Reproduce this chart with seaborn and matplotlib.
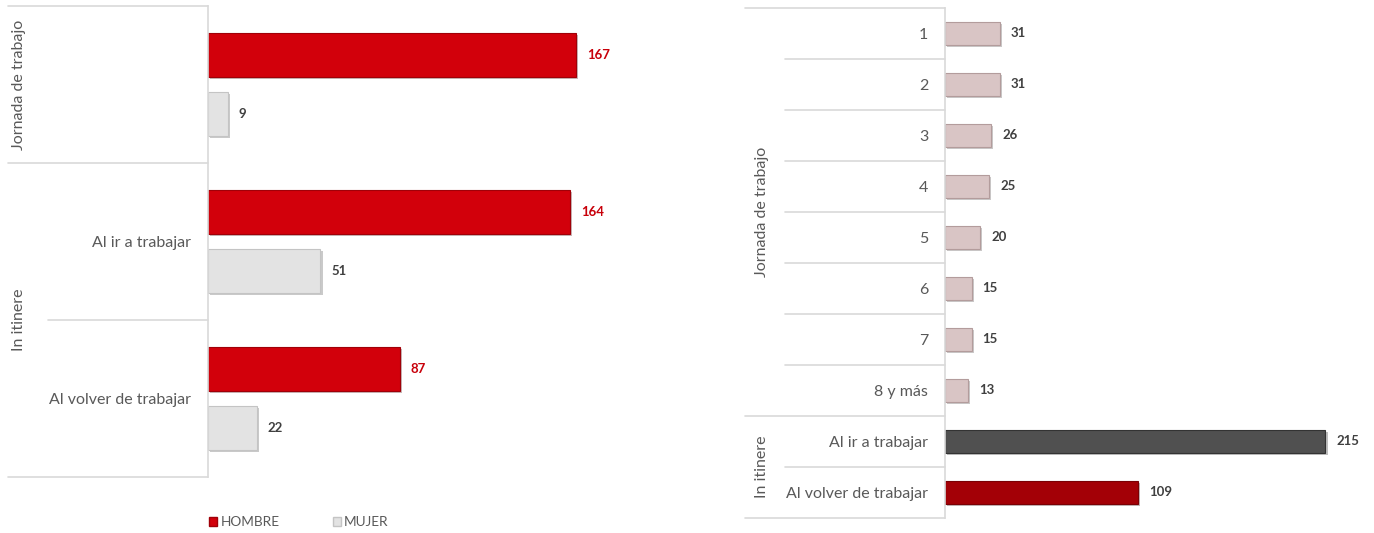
import matplotlib
matplotlib.use("Agg")
import matplotlib.pyplot as plt
import matplotlib.patheffects as pe
from matplotlib.patches import Patch
from matplotlib.transforms import blended_transform_factory
import pandas as pd
import seaborn as sns

# ---- Accidents by sex: workday vs. commuting ----
sex_categories = ["Jornada de trabajo", "Al ir a trabajar", "Al volver de trabajar"]
sex_tick_labels = ["", "Al ir a trabajar", "Al volver de trabajar"]
hombre_values = [167, 164, 87]
mujer_values = [9, 51, 22]
sex_levels = ["HOMBRE", "MUJER"]

# ---- Accidents by hour of the workday and commuting ----
hour_categories = ["1", "2", "3", "4", "5", "6", "7", "8 y más",
                   "Al ir a trabajar", "Al volver de trabajar"]
hour_values = [31, 31, 26, 25, 20, 15, 15, 13, 215, 109]

group_labels = ["Jornada de trabajo", "In itinere"]

RED = "#d2000b"
LIGHT = "#e3e3e3"
ROSE = "#d9c5c5"
DARK = "#505050"
WINE = "#a30006"
TEXT = "#595959"
LINE = "#d9d9d9"

sns.set_theme(style="white")
plt.rcParams["font.family"] = ["Lato", "DejaVu Sans"]

W, H = 1374, 533
fig = plt.figure(figsize=(W / 100, H / 100), dpi=100)


def fig_rect(left, top, right, bottom):
    return [left / W, 1 - bottom / H, (right - left) / W, (bottom - top) / H]


shadow = [pe.SimplePatchShadow(offset=(1.5, -1.5), alpha=0.28), pe.Normal()]
LABEL_FS = 11.5
VALUE_FS = 9.5

# ================= left panel =================
ax1 = fig.add_axes(fig_rect(208, 6, 208 + 419, 477))
df1 = pd.DataFrame({
    "Categoría": sex_categories * 2,
    "Sexo": [sex_levels[0]] * 3 + [sex_levels[1]] * 3,
    "Accidentes": hombre_values + mujer_values,
})
sns.barplot(data=df1, y="Categoría", x="Accidentes", hue="Sexo",
            order=sex_categories, hue_order=sex_levels,
            palette=[RED, LIGHT], saturation=1, orient="h", width=0.75,
            gap=0.25, edgecolor="none", legend=False, ax=ax1)
ax1.set_xlim(0, 190)
ax1.set_ylim(2.5, -0.5)

label_colors = ["#c8000a", "#404040"]
for cont, col, edge in zip(ax1.containers, label_colors, ["#a00008", "#c4c4c4"]):
    for bar in cont:
        bar.set_path_effects(shadow)
        bar.set_edgecolor(edge)
        bar.set_linewidth(0.8)
    ax1.bar_label(cont, padding=8, color=col, fontsize=VALUE_FS, fontweight="bold")

ax1.set_yticks(range(len(sex_tick_labels)))
ax1.set_yticklabels(sex_tick_labels, fontsize=LABEL_FS, color=TEXT)
ax1.tick_params(axis="y", length=0, pad=12)
ax1.set_xticks([])
ax1.set_xlabel("")
ax1.set_ylabel("")
for s in ["top", "right", "bottom"]:
    ax1.spines[s].set_visible(False)
ax1.spines["left"].set_color(LINE)
ax1.spines["left"].set_linewidth(1.2)

tr1 = blended_transform_factory(ax1.transAxes, ax1.transData)
full1 = (8 - 208) / 419
part1 = (48 - 208) / 419
for yv, x0 in [(-0.5, full1), (0.5, full1), (1.5, part1), (2.5, full1)]:
    ax1.plot([x0, 0], [yv, yv], color=LINE, lw=1.2, transform=tr1, clip_on=False)
ax1.text((19 - 208) / 419, 0, group_labels[0], rotation=90, ha="center",
         va="center", fontsize=LABEL_FS, color=TEXT, transform=tr1)
ax1.text((19 - 208) / 419, 1.5, group_labels[1], rotation=90, ha="center",
         va="center", fontsize=LABEL_FS, color=TEXT, transform=tr1)

handles = [Patch(facecolor=RED, edgecolor="#a00008"),
           Patch(facecolor=LIGHT, edgecolor="#c4c4c4")]
fig.legend(handles, sex_levels, loc="center left",
           bbox_to_anchor=(209 / W, 1 - 522 / H), ncol=2, frameon=False,
           fontsize=9.8, labelcolor=TEXT, handlelength=0.6, handleheight=0.6,
           handletextpad=0.25, columnspacing=3.9, borderpad=0, borderaxespad=0)

# ================= right panel =================
ax2 = fig.add_axes(fig_rect(945, 8, 945 + 407, 518))
df2 = pd.DataFrame({"Categoría": hour_categories, "Accidentes": hour_values})
palette2 = [ROSE] * 8 + [DARK, WINE]
sns.barplot(data=df2, y="Categoría", x="Accidentes", hue="Categoría",
            order=hour_categories, hue_order=hour_categories,
            palette=palette2, saturation=1, orient="h", width=0.46,
            dodge=False, edgecolor="none", legend=False, ax=ax2)
ax2.set_xlim(0, 230)
ax2.set_ylim(9.5, -0.5)

edge2 = ["#b39c9c"] * 8 + ["#333333", "#7a0004"]
for cont, edge in zip(ax2.containers, edge2):
    for bar in cont:
        bar.set_path_effects(shadow)
        bar.set_edgecolor(edge)
        bar.set_linewidth(0.8)
    ax2.bar_label(cont, padding=8, color="#404040", fontsize=VALUE_FS,
                  fontweight="bold")

ax2.set_yticks(range(len(hour_categories)))
ax2.set_yticklabels(hour_categories, fontsize=LABEL_FS, color=TEXT)
ax2.tick_params(axis="y", length=0, pad=12)
ax2.set_xticks([])
ax2.set_xlabel("")
ax2.set_ylabel("")
for s in ["top", "right", "bottom"]:
    ax2.spines[s].set_visible(False)
ax2.spines["left"].set_color(LINE)
ax2.spines["left"].set_linewidth(1.2)

tr2 = blended_transform_factory(ax2.transAxes, ax2.transData)
full2 = (745 - 945) / 407
part2 = (785 - 945) / 407
for i in range(11):
    yv = i - 0.5
    x0 = full2 if i in (0, 8, 10) else part2
    ax2.plot([x0, 0], [yv, yv], color=LINE, lw=1.2, transform=tr2, clip_on=False)
ax2.text((762 - 945) / 407, 3.5, group_labels[0], rotation=90, ha="center",
         va="center", fontsize=LABEL_FS, color=TEXT, transform=tr2)
ax2.text((762 - 945) / 407, 8.5, group_labels[1], rotation=90, ha="center",
         va="center", fontsize=LABEL_FS, color=TEXT, transform=tr2)

fig.savefig("out.png", dpi=100, facecolor="white")
